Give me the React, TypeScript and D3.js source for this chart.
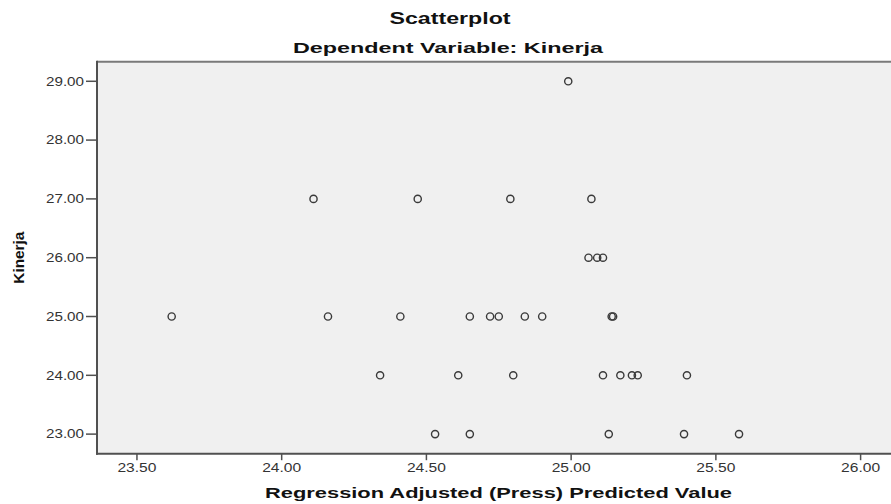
import React from 'react';
import * as d3 from 'd3';

// Regression Adjusted (Press) Predicted Value vs Kinerja
const predicted = [
  24.99,
  24.11, 24.47, 24.79, 25.07,
  25.06, 25.09, 25.11,
  23.62, 24.16, 24.41, 24.65, 24.72, 24.75, 24.84, 24.90, 25.14, 25.145,
  24.34, 24.61, 24.80, 25.11, 25.17, 25.21, 25.23, 25.40,
  24.53, 24.65, 25.13, 25.39, 25.58,
];
const kinerja = [
  29,
  27, 27, 27, 27,
  26, 26, 26,
  25, 25, 25, 25, 25, 25, 25, 25, 25, 25,
  24, 24, 24, 24, 24, 24, 24, 24,
  23, 23, 23, 23, 23,
];
const xTicks = [23.5, 24.0, 24.5, 25.0, 25.5, 26.0];
const yTicks = [23, 24, 25, 26, 27, 28, 29];

const title = 'Scatterplot';
const subtitle = 'Dependent Variable: Kinerja';
const xLabel = 'Regression Adjusted (Press) Predicted Value';
const yLabel = 'Kinerja';

const W = 891;
const H = 504;
const left = 97;
const top = 61.7;
const right = 891;
const bottom = 453.7;

const App = () => {
  const x = d3.scaleLinear().domain([23.362, 26.105]).range([left, right]);
  const y = d3.scaleLinear().domain([22.667, 29.333]).range([bottom, top]);
  const fmt = d3.format('.2f');
  const font = 'Arial, "Liberation Sans", sans-serif';

  return (
    <svg
      width={W}
      height={H}
      style={{ position: 'absolute', left: 0, top: 0, background: '#fff' }}
      fontFamily={font}
    >
      <rect x={left} y={top} width={right - left} height={bottom - top} fill="#f0f0f0" />
      <line x1={left} x2={right} y1={top} y2={top} stroke="#7a7a7a" strokeWidth={2} />
      <line x1={left} x2={left} y1={top - 1} y2={bottom + 1} stroke="#505050" strokeWidth={2} />
      <line x1={left - 1} x2={right} y1={bottom} y2={bottom} stroke="#505050" strokeWidth={2} />

      {yTicks.map(t => (
        <g key={'y' + t}>
          <line x1={86} x2={left} y1={y(t)} y2={y(t)} stroke="#505050" strokeWidth={1.5} />
          <text
            x={84}
            y={y(t)}
            dy="0.36em"
            textAnchor="end"
            fontSize={12}
            fill="#333"
            textLength={38}
            lengthAdjust="spacingAndGlyphs"
          >
            {fmt(t)}
          </text>
        </g>
      ))}

      {xTicks.map(t => (
        <g key={'x' + t}>
          <line x1={x(t)} x2={x(t)} y1={bottom} y2={bottom + 6.5} stroke="#505050" strokeWidth={1.5} />
          <text
            x={x(t)}
            y={472}
            textAnchor="middle"
            fontSize={12}
            fill="#333"
            textLength={39}
            lengthAdjust="spacingAndGlyphs"
          >
            {fmt(t)}
          </text>
        </g>
      ))}

      {predicted.map((p, i) => (
        <circle
          key={i}
          cx={x(p)}
          cy={y(kinerja[i])}
          r={3.6}
          fill="none"
          stroke="#3a3a3a"
          strokeWidth={1.4}
        />
      ))}

      <text x={450} y={24} textAnchor="middle" fontSize={16} fontWeight="bold" fill="#111"
        textLength={121} lengthAdjust="spacingAndGlyphs">{title}</text>
      <text x={448} y={53} textAnchor="middle" fontSize={15.5} fontWeight="bold" fill="#111"
        textLength={310} lengthAdjust="spacingAndGlyphs">{subtitle}</text>
      <text x={498.5} y={498} textAnchor="middle" fontSize={15.5} fontWeight="bold" fill="#111"
        textLength={467} lengthAdjust="spacingAndGlyphs">{xLabel}</text>
      <text
        transform={`translate(24,${(top + bottom) / 2}) rotate(-90)`}
        textAnchor="middle"
        fontSize={14}
        fontWeight="bold"
        fill="#111"
        textLength={52}
        lengthAdjust="spacingAndGlyphs"
      >
        {yLabel}
      </text>
    </svg>
  );
};

export default App;
